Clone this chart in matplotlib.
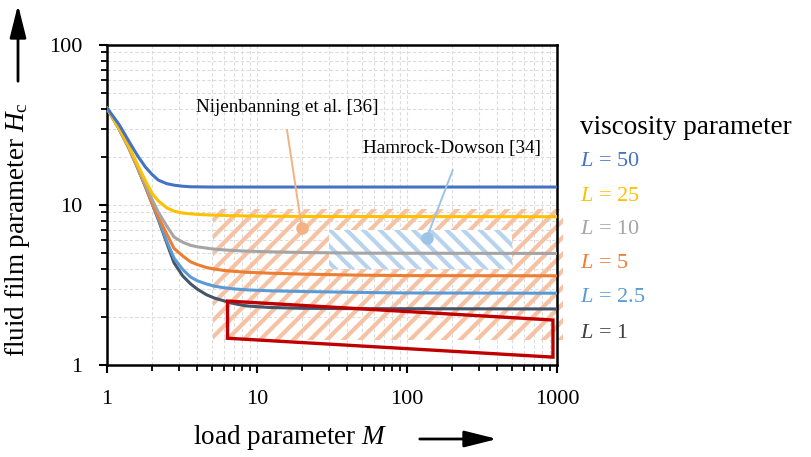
import matplotlib
matplotlib.use("Agg")
import matplotlib.pyplot as plt
from matplotlib.patches import Rectangle, Polygon, FancyArrowPatch

plt.rcParams['font.family'] = ['Liberation Serif', 'DejaVu Serif']
plt.rcParams['mathtext.fontset'] = 'custom'
plt.rcParams['mathtext.rm'] = 'Liberation Serif'
plt.rcParams['mathtext.it'] = 'Liberation Serif:italic'
plt.rcParams['hatch.linewidth'] = 3.0

# ---- data ----
M_L50 = [1, 1.2, 1.4, 1.6, 1.8, 2.0, 2.2, 2.5, 2.8, 3.2, 3.6, 5, 1000]
H_L50 = [40.4, 32.0, 25.0, 20.3, 17.3, 15.5, 14.3, 13.6, 13.3, 13.1, 13.0, 12.95, 12.95]

M_L25 = [1, 1.2, 1.4, 1.6, 1.8, 2.0, 2.2, 2.5, 2.8, 3.2, 4.0, 5.0, 7, 10, 20, 1000]
H_L25 = [40.4, 30.3, 23.2, 17.8, 14.2, 11.8, 10.6, 9.6, 9.15, 8.9, 8.73, 8.65, 8.57, 8.52, 8.48, 8.45]

M_L10 = [1, 1.2, 1.4, 1.6, 1.8, 2.0, 2.2, 2.5, 2.8, 3.2, 3.6, 4.0, 5.0, 6, 8, 12, 20, 50, 1000]
H_L10 = [40.4, 30.1, 22.8, 17.3, 13.4, 10.8, 9.0, 7.4, 6.3, 5.85, 5.6, 5.48, 5.32, 5.24, 5.16, 5.1, 5.05, 5.0, 4.98]

M_L5 = [1, 1.2, 1.4, 1.6, 1.8, 2.0, 2.2, 2.5, 2.8, 3.2, 3.6, 4.0, 4.6, 5.2, 6.0, 7.0, 8.5, 12, 20, 50, 100, 1000]
H_L5 = [40.4, 30.1, 22.7, 17.1, 13.1, 10.2, 8.4, 6.6, 5.35, 4.8, 4.42, 4.24, 4.07, 3.98, 3.9, 3.85, 3.8, 3.75, 3.70, 3.64, 3.62, 3.61]

M_L2_5 = [1, 1.2, 1.4, 1.6, 1.8, 2.0, 2.2, 2.5, 2.8, 3.2, 3.6, 4.0, 4.6, 5.2, 6.0, 7.0, 8.5, 12, 20, 50, 100, 1000]
H_L2_5 = [40.4, 30.1, 22.7, 17.1, 13.1, 10.2, 8.2, 5.95, 4.65, 3.95, 3.55, 3.36, 3.21, 3.11, 3.04, 2.99, 2.95, 2.91, 2.88, 2.84, 2.82, 2.81]

M_L1 = [1, 1.2, 1.4, 1.6, 1.8, 2.0, 2.2, 2.5, 2.8, 3.2, 3.6, 4.0, 4.6, 5.2, 6.0, 7.0, 8.5, 12, 20, 50, 1000]
H_L1 = [40.4, 30.1, 22.7, 17.1, 13.1, 10.2, 8.1, 5.8, 4.35, 3.6, 3.22, 2.98, 2.75, 2.62, 2.52, 2.42, 2.34, 2.29, 2.26, 2.25, 2.24]

curve_labels = ['$L$ = 50', '$L$ = 25', '$L$ = 10', '$L$ = 5', '$L$ = 2.5', '$L$ = 1']
curve_colors = ['#4472C4', '#FFC000', '#A5A5A5', '#ED7D31', '#5B9BD5', '#44546A']
label_colors = ['#4472C4', '#FFC000', '#A5A5A5', '#ED7D31', '#5B9BD5', '#404040']

nij_M = [5.1, 1100]      # Nijenbanning range
nij_H = [1.43, 9.5]
hd_M = [30, 500]         # Hamrock-Dowson range
hd_H = [4.0, 7.0]
box_M = [6.36, 940, 940, 6.36]
box_H = [2.51, 1.91, 1.12, 1.47]

x_ticks = [1, 10, 100, 1000]
x_ticklabels = ['1', '10', '100', '1000']
y_ticks = [1, 10, 100]
y_ticklabels = ['1', '10', '100']

# ---- figure ----
W, Hpx = 811, 457
fig = plt.figure(figsize=(W / 100, Hpx / 100), dpi=100)
ax = fig.add_axes([107 / W, 1 - 365 / Hpx, 450 / W, 320 / Hpx])
ax.set_xscale('log')
ax.set_yscale('log')
ax.set_xlim(1, 1000)
ax.set_ylim(1, 100)
ax.set_xticks(x_ticks)
ax.set_xticklabels(x_ticklabels)
ax.set_yticks(y_ticks)
ax.set_yticklabels(y_ticklabels)
ax.grid(True, which='both', color='#DCDCDC', linestyle=(0, (3, 2)), linewidth=0.8)
ax.set_axisbelow(True)
ax.tick_params(which='major', direction='out', length=6, width=1.5, labelsize=16, pad=12)
ax.tick_params(which='minor', direction='out', length=4.5, width=1.3)
for s in ax.spines.values():
    s.set_linewidth(1.8)

# hatched regions
r1 = Rectangle((nij_M[0], nij_H[0]), nij_M[1] - nij_M[0], nij_H[1] - nij_H[0],
               facecolor='none', edgecolor='#F6C2A4', linewidth=0, hatch='//',
               clip_on=False, zorder=1.5)
ax.add_patch(r1)
r2w = Rectangle((hd_M[0], hd_H[0]), hd_M[1] - hd_M[0], hd_H[1] - hd_H[0],
                facecolor='white', edgecolor='none', linewidth=0, zorder=1.6)
ax.add_patch(r2w)
r2 = Rectangle((hd_M[0], hd_H[0]), hd_M[1] - hd_M[0], hd_H[1] - hd_H[0],
               facecolor='none', edgecolor='#B8D3EE', linewidth=0, hatch='\\\\',
               zorder=1.7)
ax.add_patch(r2)

# curves
series = [(M_L50, H_L50), (M_L25, H_L25), (M_L10, H_L10), (M_L5, H_L5),
          (M_L2_5, H_L2_5), (M_L1, H_L1)]
for (m, h), c in zip(series[::-1], curve_colors[::-1]):
    ax.plot(m, h, color=c, lw=2.2, zorder=3, solid_capstyle='round', solid_joinstyle='round')

# red box
ax.add_patch(Polygon(list(zip(box_M, box_H)), closed=True, fill=False,
                     edgecolor='#C00000', linewidth=2.4, zorder=4))

# annotations
ax.text(15.85, 40.5, 'Nijenbanning et al. [36]', ha='center', va='center', fontsize=13.8, zorder=5)
ax.plot([15.85, 19.9], [29.4, 7.18], color='#F4B183', lw=1.4, zorder=5)
ax.plot([19.9], [7.18], 'o', ms=9, color='#F4B183', mec='none', zorder=5)
ax.text(200, 22.4, 'Hamrock-Dowson [34]', ha='center', va='center', fontsize=13.8, zorder=5)
ax.plot([201.7, 135], [16.5, 6.19], color='#9DC3E6', lw=1.4, zorder=5)
ax.plot([135], [6.19], 'o', ms=9, color='#9DC3E6', mec='none', zorder=5)

# axis labels
fig.text(18 / W, 1 - 230 / Hpx, 'fluid film parameter $H_\\mathrm{c}$', rotation=90,
         ha='center', va='center', fontsize=19.5)
fig.text(290 / W, 1 - 438 / Hpx, 'load parameter $M$', ha='center', va='center', fontsize=19.5)
fig.patches.append(FancyArrowPatch(
    (417 / W, 1 - 439 / Hpx), (500 / W, 1 - 439 / Hpx), transform=fig.transFigure,
    arrowstyle='-|>,head_length=1.0,head_width=0.25', mutation_scale=20,
    color='black', lw=2))
fig.patches.append(FancyArrowPatch(
    (18 / W, 1 - 84 / Hpx), (18 / W, 1 - 2 / Hpx), transform=fig.transFigure,
    arrowstyle='-|>,head_length=1.0,head_width=0.25', mutation_scale=20,
    color='black', lw=2))

# legend texts
fig.text(580 / W, 1 - 127 / Hpx, 'viscosity parameter', ha='left', va='center', fontsize=19.5)
ys = [161.7, 196.7, 230, 264, 298, 333]
for lab, col, y in zip(curve_labels, label_colors, ys):
    fig.text(580 / W, 1 - y / Hpx, lab, ha='left', va='center', fontsize=16, color=col)

fig.savefig('out.png', dpi=100)
